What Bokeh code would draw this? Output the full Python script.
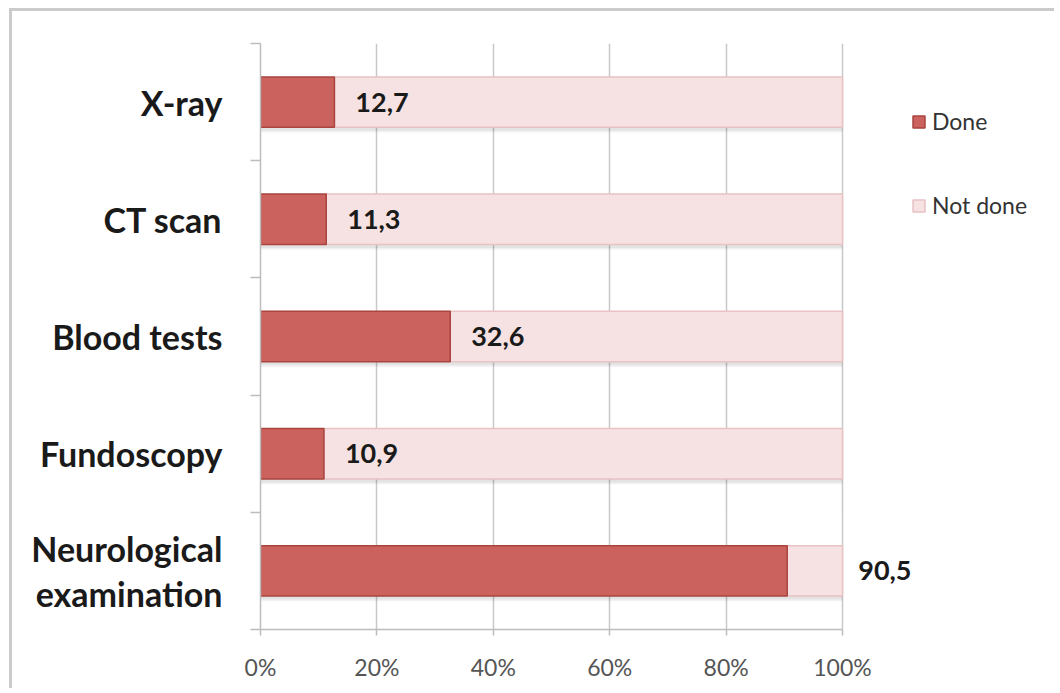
from bokeh.plotting import figure
from bokeh.models import (ColumnDataSource, FixedTicker, Legend, LegendItem, Range1d)
from bokeh.core.properties import value
from bokeh.embed import file_html
from bokeh.resources import INLINE

# Share of patients in whom each investigation was done (%)
categories = ["X-ray", "CT scan", "Blood tests", "Fundoscopy", "Neurological\nexamination"]
done = [12.7, 11.3, 32.6, 10.9, 90.5]
not_done = [100 - d for d in done]
x_ticks = [0, 20, 40, 60, 80, 100]
x_tick_labels = ["0%", "20%", "40%", "60%", "80%", "100%"]

DONE_FILL = "#cc625d"
DONE_LINE = "#a9443f"
NOT_FILL = "#f6e2e2"
NOT_LINE = "#e8c2c4"
GRID = "#c8c8c8"
AXIS = "#bdbdbd"

n = len(categories)
# first category on top: numeric band centres counted from the bottom
ypos = [n - i - 0.5 for i in range(n)]
label_x = [d + 3.6 if d < 50 else d + nd + 2.7 for d, nd in zip(done, not_done)]
label_txt = [f"{d:.1f}".replace(".", ",") for d in done]

src = ColumnDataSource(dict(y=ypos, done=done, total=[d + nd for d, nd in zip(done, not_done)],
                            lx=label_x, lt=label_txt,
                            ys1=[y - 0.045 for y in ypos], ys2=[y - 0.03 for y in ypos]))

p = figure(width=1045, height=680, output_backend="svg", toolbar_location=None,
           x_range=Range1d(0, 136.94), y_range=Range1d(0, n),
           min_border_left=248, min_border_top=32, min_border_bottom=62, min_border_right=0)
p.styles = {"border-top": "3px solid #cbcbcb", "border-left": "3px solid #cbcbcb",
            "margin-left": "9px", "margin-top": "8px"}
p.outline_line_color = None
p.background_fill_color = "white"
p.border_fill_color = "white"

BAR_H = 0.43

# soft drop shadow under each bar
p.hbar(y="ys1", left=0, right="total", height=BAR_H, source=src,
       fill_color="black", fill_alpha=0.05, line_color=None)
p.hbar(y="ys2", left=0, right="total", height=BAR_H, source=src,
       fill_color="black", fill_alpha=0.06, line_color=None)

r_not = p.hbar(y="y", left="done", right="total", height=BAR_H, source=src,
               fill_color=NOT_FILL, line_color=NOT_LINE, line_width=1.5)
r_done = p.hbar(y="y", left=0, right="done", height=BAR_H, source=src,
                fill_color=DONE_FILL, line_color=DONE_LINE, line_width=1.5)

p.text(x="lx", y="y", text="lt", source=src, text_font=value("Lato"), text_font_style="bold",
       text_font_size="27px", text_color="#1a1a1a", text_align="left", text_baseline="middle")

# x axis
xa = p.xaxis[0]
xa.ticker = FixedTicker(ticks=x_ticks)
xa.major_label_overrides = {t: s for t, s in zip(x_ticks, x_tick_labels)}
xa.bounds = (0, 100)
xa.axis_line_color = AXIS
xa.axis_line_width = 1.5
xa.major_tick_line_color = AXIS
xa.major_tick_line_width = 1.5
xa.major_tick_out = 6
xa.major_tick_in = 0
xa.minor_tick_line_color = None
xa.major_label_standoff = 17
xa.major_label_text_font = "Lato"
xa.major_label_text_font_size = "23px"
xa.major_label_text_color = "#555555"

# y axis: labels at band centres, ticks at band boundaries
ya = p.yaxis[0]
ya.ticker = FixedTicker(ticks=ypos, minor_ticks=list(range(n + 1)))
ya.major_label_overrides = {y: c for y, c in zip(ypos, categories)}
ya.axis_line_color = AXIS
ya.axis_line_width = 1.5
ya.major_tick_line_color = None
ya.major_tick_out = 0
ya.major_tick_in = 0
ya.minor_tick_line_color = AXIS
ya.minor_tick_line_width = 1.5
ya.minor_tick_out = 10
ya.minor_tick_in = 0
ya.major_label_standoff = 28
ya.major_label_text_font = "Lato"
ya.major_label_text_font_style = "bold"
ya.major_label_text_font_size = "34px"
ya.major_label_text_color = "#1a1a1a"
ya.major_label_text_line_height = 1.1

p.xgrid.ticker = FixedTicker(ticks=x_ticks)
p.xgrid.grid_line_color = GRID
p.xgrid.grid_line_width = 1.5
p.ygrid.grid_line_color = None

legend = Legend(items=[LegendItem(label="Done", renderers=[r_done]),
                       LegendItem(label="Not done", renderers=[r_not])],
                location=(651, 410), orientation="vertical",
                glyph_width=15, glyph_height=15, label_standoff=6,
                label_height=20, spacing=56, padding=0, margin=0,
                border_line_color=None, background_fill_alpha=0,
                label_text_font="Lato", label_text_font_size="23px",
                label_text_color="#333333")
p.add_layout(legend)

open("out.html", "w").write(file_html(p, INLINE))
